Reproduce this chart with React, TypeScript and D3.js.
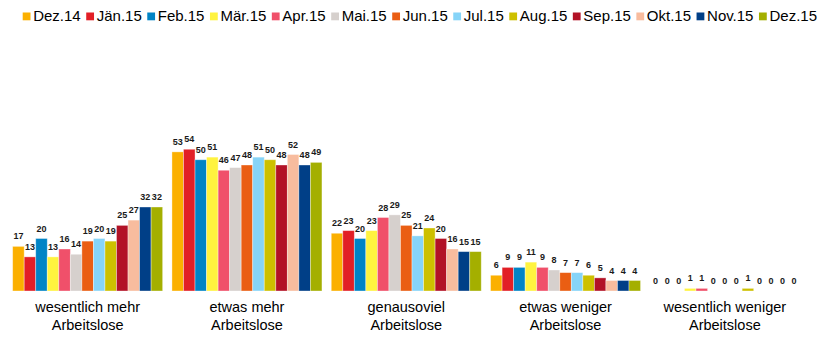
import React, { useEffect, useRef } from "react";
import * as d3 from "d3";

const seriesNames = ["Dez.14", "Jän.15", "Feb.15", "Mär.15", "Apr.15", "Mai.15", "Jun.15", "Jul.15", "Aug.15", "Sep.15", "Okt.15", "Nov.15", "Dez.15"];
const seriesColors = ["#FBB000", "#E21F26", "#0084C6", "#FFF33F", "#F0506A", "#D6D0CD", "#EA5E13", "#86D4F8", "#CDC000", "#B21226", "#F8BC9E", "#003F87", "#A4AF00"];
const categories = [
  ["wesentlich mehr", "Arbeitslose"],
  ["etwas mehr", "Arbeitslose"],
  ["genausoviel", "Arbeitslose"],
  ["etwas weniger", "Arbeitslose"],
  ["wesentlich weniger", "Arbeitslose"],
];
const wesentlichMehr = [17, 13, 20, 13, 16, 14, 19, 20, 19, 25, 27, 32, 32];
const etwasMehr = [53, 54, 50, 51, 46, 47, 48, 51, 50, 48, 52, 48, 49];
const genausoviel = [22, 23, 20, 23, 28, 29, 25, 21, 24, 20, 16, 15, 15];
const etwasWeniger = [6, 9, 9, 11, 9, 8, 7, 7, 6, 5, 4, 4, 4];
const wesentlichWeniger = [0, 0, 0, 1, 1, 0, 0, 0, 1, 0, 0, 0, 0];
const values = [wesentlichMehr, etwasMehr, genausoviel, etwasWeniger, wesentlichWeniger];

const W = 830;
const H = 340;
const FONT = "'Liberation Sans', Arial, sans-serif";

export default function App() {
  const ref = useRef<SVGSVGElement | null>(null);

  useEffect(() => {
    document.body.style.margin = "0";
    const svg = d3.select(ref.current);
    svg.selectAll("*").remove();

    const x0 = d3.scaleBand<number>()
      .domain(categories.map((_, i) => i))
      .range([8, 804.5])
      .paddingInner(0.0584)
      .paddingOuter(0.0292);
    const x1 = d3.scaleBand<number>()
      .domain(seriesNames.map((_, i) => i))
      .range([0, x0.bandwidth()])
      .padding(0);
    const y = d3.scaleLinear().domain([0, 60]).range([291, 291 - 2.625 * 60]);

    const groups = svg.selectAll("g.grp")
      .data(values)
      .join("g")
      .attr("class", "grp")
      .attr("transform", (_, i) => `translate(${x0(i)},0)`);

    groups.selectAll("rect")
      .data((d) => d.map((v, j) => ({ v, j })))
      .join("rect")
      .attr("x", (d) => x1(d.j)!)
      .attr("width", x1.bandwidth())
      .attr("y", (d) => y(d.v))
      .attr("height", (d) => y(0) - y(d.v))
      .attr("fill", (d) => seriesColors[d.j])
      .attr("stroke", "rgba(255,255,255,0.45)")
      .attr("stroke-width", 0.8);

    groups.selectAll("text.val")
      .data((d) => d.map((v, j) => ({ v, j })))
      .join("text")
      .attr("class", "val")
      .attr("x", (d) => x1(d.j)! + x1.bandwidth() / 2)
      .attr("y", (d) => y(d.v) - 7)
      .attr("text-anchor", "middle")
      .attr("font-family", FONT)
      .attr("font-size", 9)
      .attr("font-weight", "bold")
      .attr("fill", "#1a1a1a")
      .text((d) => String(d.v));

    // category labels
    const cat = svg.selectAll("text.cat")
      .data(categories)
      .join("text")
      .attr("class", "cat")
      .attr("text-anchor", "middle")
      .attr("font-family", FONT)
      .attr("font-size", 14.5)
      .attr("fill", "#000");
    cat.each(function (d, i) {
      const t = d3.select(this);
      const cx = x0(i)! + x0.bandwidth() / 2;
      t.append("tspan").attr("x", cx).attr("y", 312).text(d[0]);
      t.append("tspan").attr("x", cx).attr("y", 329.5).text(d[1]);
    });

    // legend
    const leg = svg.append("g");
    const items = seriesNames.map((name, i) => {
      const r = leg.append("rect")
        .attr("y", 12.5)
        .attr("width", 7.8)
        .attr("height", 7.8)
        .attr("fill", seriesColors[i]);
      const t = leg.append("text")
        .attr("y", 20.6)
        .attr("font-family", FONT)
        .attr("font-size", 15)
        .attr("fill", "#000")
        .text(name);
      const len = (t.node() as SVGTextElement).getComputedTextLength();
      return { r, t, len };
    });
    const startX = 22.7;
    const endX = 817;
    const total = d3.sum(items, (it) => 10.5 + it.len);
    const gap = (endX - startX - total) / (items.length - 1);
    let lx = startX;
    items.forEach((it) => {
      it.r.attr("x", lx);
      it.t.attr("x", lx + 10.5);
      lx = lx + 10.5 + it.len + gap;
    });
  }, []);

  return <svg ref={ref} width={W} height={H} style={{ display: "block", background: "#fff" }} />;
}
